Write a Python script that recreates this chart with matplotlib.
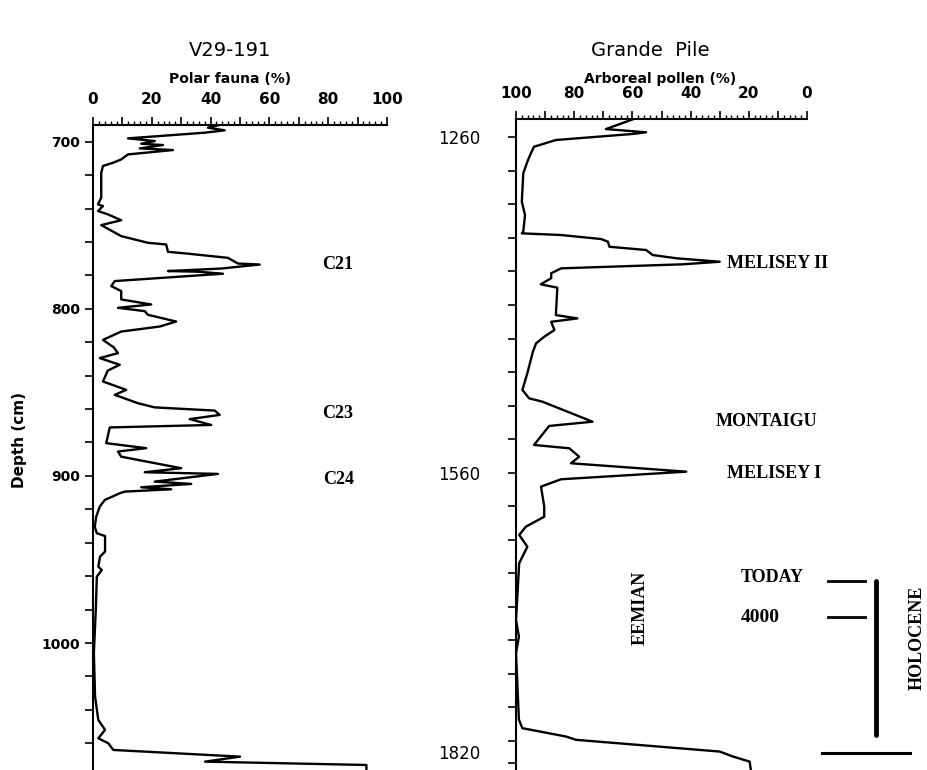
import matplotlib
matplotlib.use('Agg')
import matplotlib.pyplot as plt
from matplotlib.ticker import MultipleLocator, FuncFormatter

# V29-191 polar fauna (%) vs depth (cm)
v29_depth = [690, 691.6, 693.2, 694.6, 698, 699.6, 701.2, 702, 704, 705, 707.6, 710.6,
             712.6, 714.5, 718.6, 733.5, 737.5, 738.5, 741.5, 743.5, 747, 749.9, 756.5,
             760.5, 761.5, 765.9, 767, 769.5, 772.9, 773.5, 775.9, 777.4, 777.8, 779,
             783.4, 786.4, 789.4, 794.4, 797.4, 799.4, 801.4, 803.6, 807.6, 810.6, 813.6,
             818.6, 823, 826.5, 829.5, 833.5, 837, 843.5, 848.5, 851.5, 856.5, 859, 860.9,
             863.5, 866, 869.5, 871, 880.4, 883.4, 885.4, 888.5, 895.4, 897.8, 898.8, 903.4,
             904.8, 906.8, 908, 909.4, 910.4, 914.4, 918.4, 924.4, 930.4, 934.3, 936,
             945.3, 948.3, 954.3, 956.3, 960.3, 978, 1006, 1032, 1046, 1052, 1057, 1060,
             1064, 1068, 1071, 1073, 1078]
v29_fauna = [43, 39.1, 44.8, 38, 11.9, 21, 16.4, 23.8, 15.9, 27.2, 11.9, 9.6,
             6.8, 3.4, 2.8, 2.8, 1.7, 3.4, 1.7, 5.1, 9.6, 2.8, 9.6,
             18.7, 24.9, 25.5, 32.3, 45.9, 49.3, 56.7, 43.6, 25.5, 35.7, 44.2,
             7.4, 6.2, 9.6, 9.6, 19.8, 8.5, 17.6, 18.7, 28.3, 22.7, 9.6,
             3.4, 7, 8.5, 2.3, 9.1, 5, 3.4, 11.3, 7.4, 15.3, 21, 41.4,
             43.1, 32.9, 40.2, 5.7, 4.5, 18.1, 8.5, 9.6, 30, 17.6, 42.5, 21,
             33.4, 16.4, 26.6, 10.8, 9.1, 4, 2.3, 1.1, 0.6, 1.3, 4.1,
             4.1, 2.4, 1.8, 3, 1.3, 1, 0.3, 0.7, 1.8, 4.1, 1.8, 5.2,
             6.9, 50, 38.1, 93, 93]

# Grande Pile arboreal pollen (%) vs depth (cm)
gp_depth = [1244, 1252.6, 1255.5, 1257, 1262.4, 1268.4, 1274.3, 1281.8, 1292.2, 1317.6,
            1329.5, 1344.4, 1345.9, 1347.4, 1351, 1353.4, 1357.9, 1360.8, 1365.3, 1368.2,
            1371.3, 1373.6, 1377.2, 1381.6, 1386, 1391.5, 1394.5, 1419, 1422, 1425,
            1432.4, 1438.4, 1444.3, 1451.8, 1471, 1486, 1493.5, 1496.5, 1514.4, 1518.2,
            1535.2, 1538.2, 1545.7, 1551.6, 1559.1, 1565.9, 1572.5, 1590.4, 1599.4, 1608.3,
            1615.7, 1626.2, 1641, 1691.7, 1706.7, 1721.5, 1781, 1788.6, 1796, 1799,
            1809.5, 1814, 1818.5, 1830]
gp_pollen = [60, 69.1, 55.3, 60, 86.3, 93.8, 94.9, 96.1, 97.5, 98,
             96.9, 97.5, 98, 84.5, 70.7, 68.4, 67.9, 55.3, 53, 44.9,
             30, 42.7, 84.5, 87.9, 87.9, 91.5, 85.8, 86.3, 78.9, 87.9,
             86.8, 90.3, 93.1, 94.2, 96.1, 97.8, 95.5, 90.9, 73.7, 88.6,
             93.8, 81.7, 78.3, 81.1, 41.5, 84.5, 91.4, 90.3, 90.3, 96.6,
             98.9, 96.1, 98.9, 100, 99, 100, 99, 97.8, 82.9, 79.4,
             30, 25.4, 19.7, 19.1]

W, H = 927, 770
fig = plt.figure(figsize=(W / 100, H / 100), dpi=100)


def px(x, y):
    return x / W, 1 - y / H


def style_axes(ax):
    for s in ['right', 'bottom']:
        ax.spines[s].set_visible(False)
    for s in ['left', 'top']:
        ax.spines[s].set_linewidth(1.5)
    ax.xaxis.tick_top()
    ax.xaxis.set_major_locator(MultipleLocator(10))
    ax.xaxis.set_minor_locator(MultipleLocator(2))
    ax.xaxis.set_major_formatter(FuncFormatter(lambda v, p: '%d' % v if int(round(v)) % 20 == 0 else ''))
    ax.tick_params(axis='x', which='major', length=6, width=1.2, pad=7, labelsize=11)
    ax.tick_params(axis='x', which='minor', length=3, width=1)
    ax.tick_params(axis='y', which='both', length=6, width=1.2, direction='out')
    for lab in ax.get_xticklabels():
        lab.set_fontweight('bold')


# left panel
ax1 = fig.add_axes([93 / W, 0, (387 - 93) / W, 1 - 125 / H])
ax1.plot(v29_fauna, v29_depth, color='black', lw=1.7)
ax1.set_xlim(0, 100)
ax1.set_ylim(1076, 690)
style_axes(ax1)
ax1.set_yticks([700, 800, 900, 1000])
ax1.yaxis.set_minor_locator(MultipleLocator(20))
ax1.tick_params(axis='y', which='major', labelsize=10, pad=3)
for lab in ax1.get_yticklabels():
    lab.set_fontweight('bold')
fig.text(*px(20, 440), 'Depth (cm)', fontsize=11, fontweight='bold', rotation=90,
         ha='center', va='center')

# right panel
ax2 = fig.add_axes([516 / W, 0, (807 - 516) / W, 1 - 119 / H])
ax2.plot(gp_pollen, gp_depth, color='black', lw=1.7)
ax2.set_xlim(100, 0)
ax2.set_ylim(1826, 1243.6)
style_axes(ax2)
ax2.set_yticks([1260, 1560, 1820])
ax2.yaxis.set_minor_locator(MultipleLocator(30))
ax2.tick_params(axis='y', which='major', labelsize=12, pad=20)
ax2.get_yticklabels()[-1].set_va('bottom')

# titles
fig.text(*px(230, 50), 'V29-191', fontsize=14, ha='center', va='center')
fig.text(*px(230, 79), 'Polar fauna (%)', fontsize=10, fontweight='bold', ha='center', va='center')
fig.text(*px(650, 50), 'Grande  Pile', fontsize=14, ha='center', va='center')
fig.text(*px(660, 79), 'Arboreal pollen (%)', fontsize=10, fontweight='bold', ha='center', va='center')

# annotations
serif = dict(family='Liberation Serif', fontsize=13, fontweight='bold', va='center')
fig.text(*px(322, 265), 'C21', ha='left', **serif)
fig.text(*px(322, 414), 'C23', ha='left', **serif)
fig.text(*px(323, 480), 'C24', ha='left', **serif)
fig.text(*px(727, 264), 'MELISEY II', ha='left', **serif)
fig.text(*px(716, 422), 'MONTAIGU', ha='left', **serif)
fig.text(*px(727, 473), 'MELISEY I', ha='left', **serif)
fig.text(*px(741, 577), 'TODAY', ha='left', **serif)
fig.text(*px(741, 617), '4000', ha='left', fontsize=14, **{k: v for k, v in serif.items() if k != 'fontsize'})
fig.text(*px(640, 608), 'EEMIAN', ha='center', rotation=90, **serif)
fig.text(*px(917, 638), 'HOLOCENE', ha='center', rotation=90, **serif)

# holocene bracket
fig.add_artist(plt.Line2D([828 / W, 865 / W], [1 - 580.7 / H] * 2, color='black', lw=2))
fig.add_artist(plt.Line2D([828 / W, 865 / W], [1 - 617.3 / H] * 2, color='black', lw=2))
fig.add_artist(plt.Line2D([876 / W] * 2, [1 - 581 / H, 1 - 735 / H], color='black', lw=3.5,
                          solid_capstyle='round'))
fig.add_artist(plt.Line2D([822 / W, 910 / W], [1 - 753.3 / H] * 2, color='black', lw=2.2))

fig.savefig('out.png', dpi=100)
